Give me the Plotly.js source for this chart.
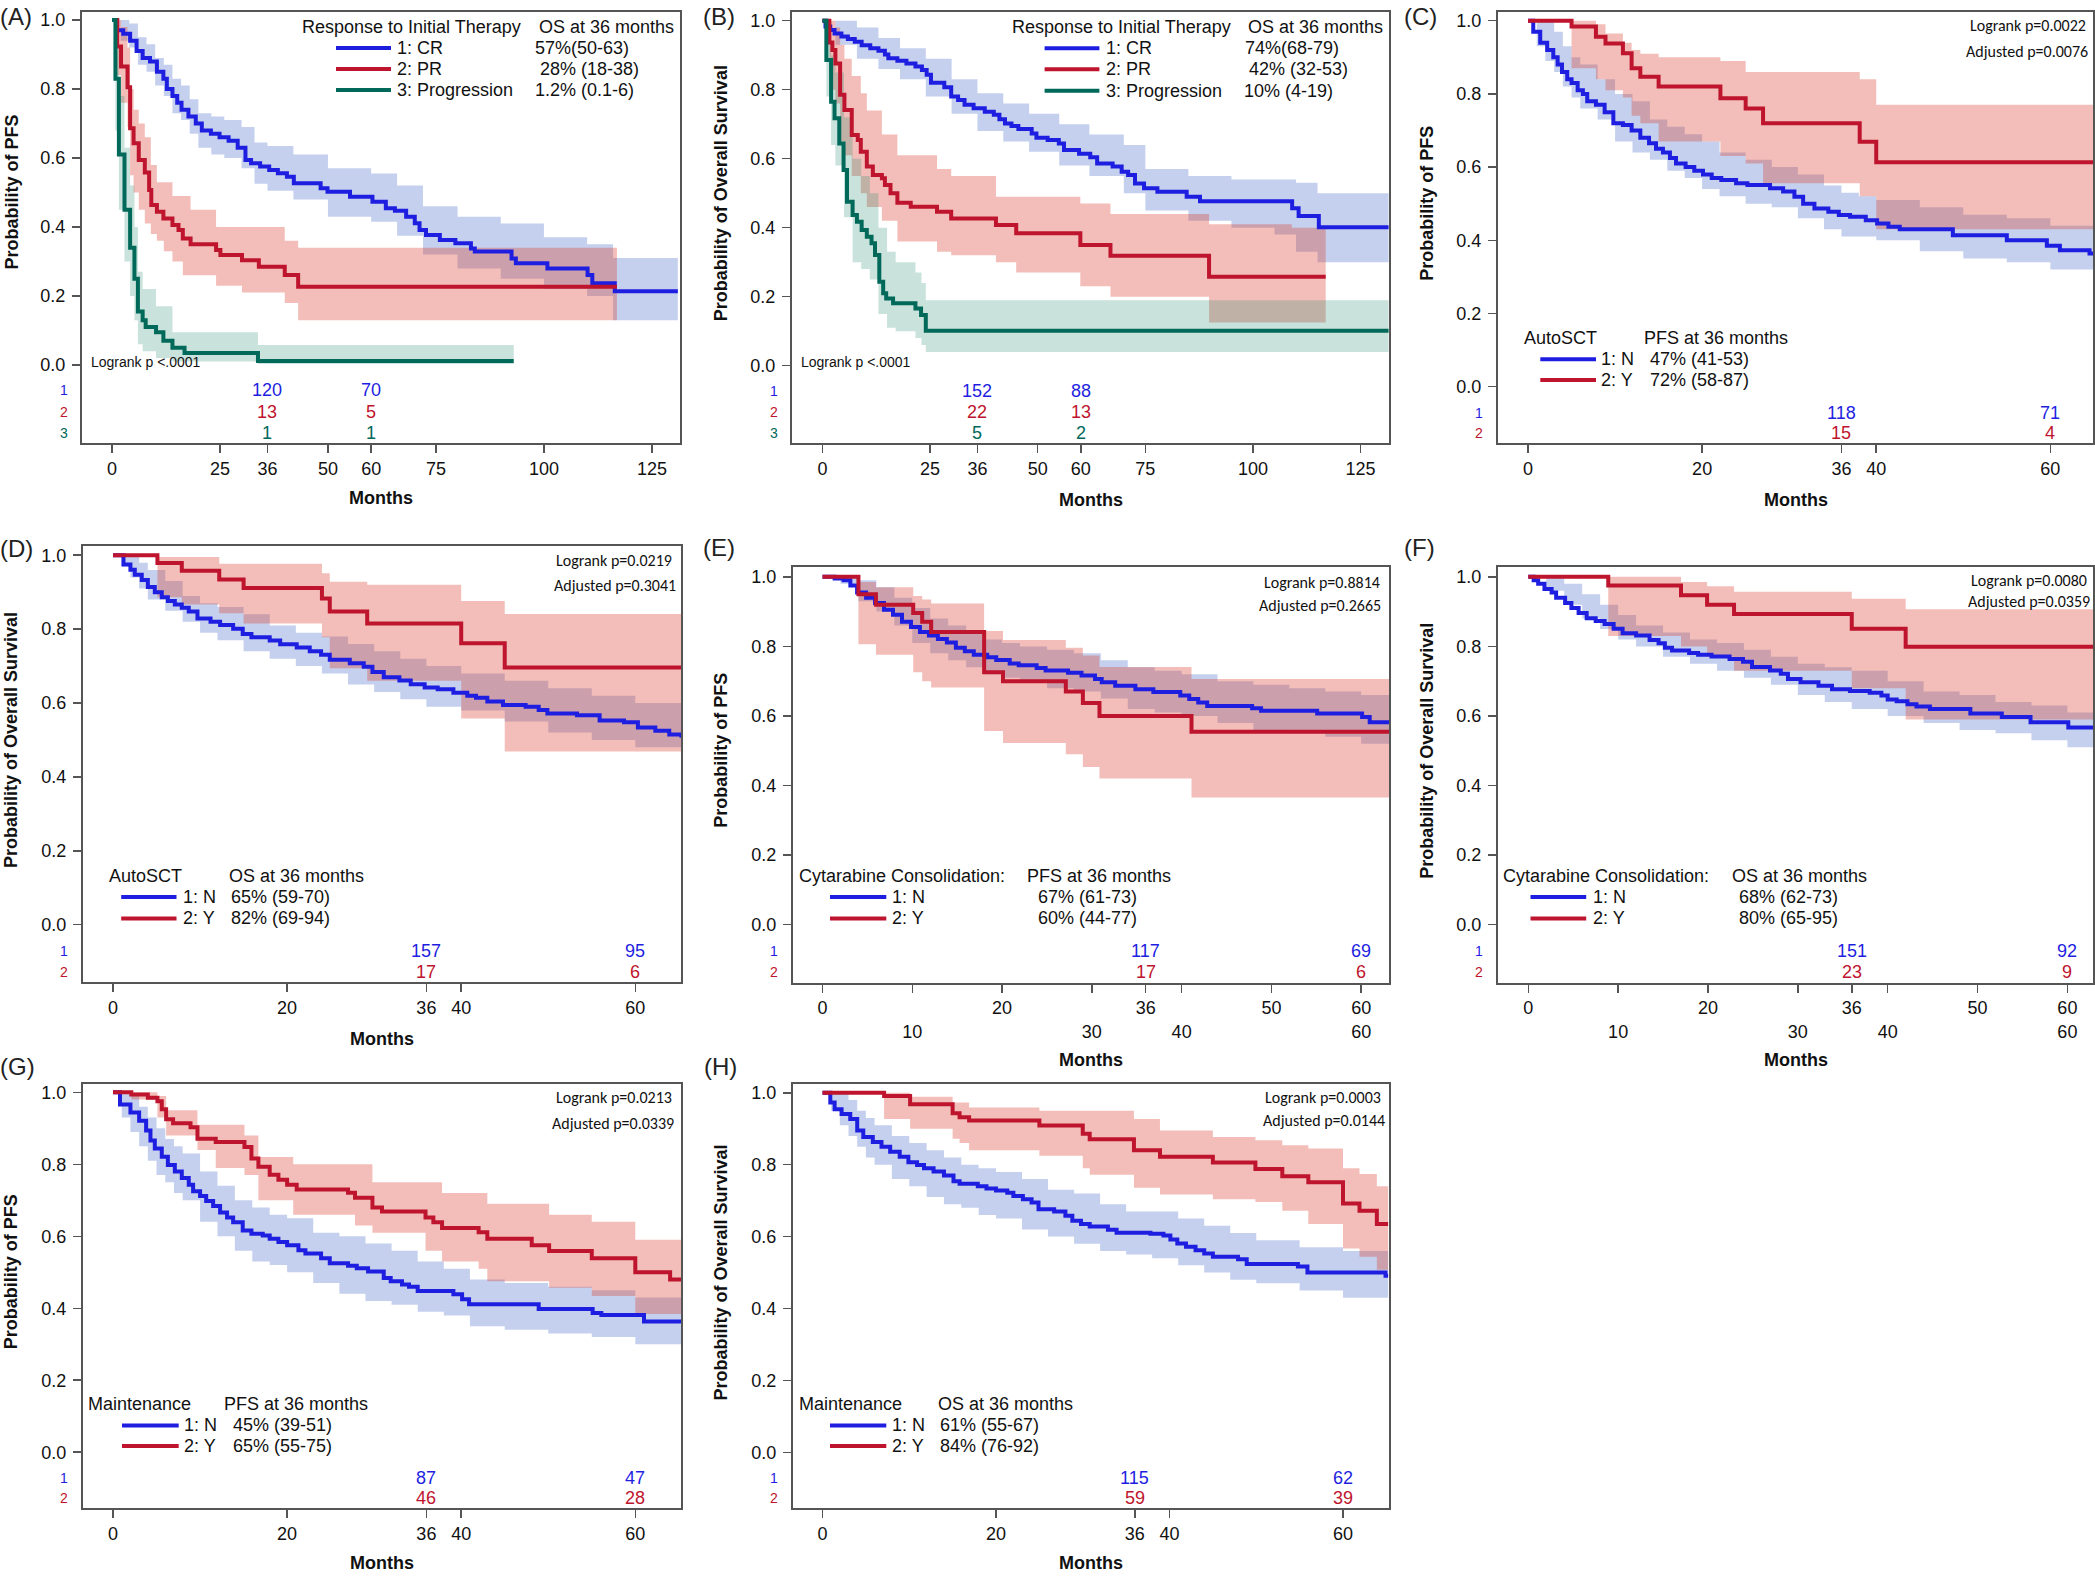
<!DOCTYPE html>
<html><head><meta charset="utf-8">
<script src="https://cdn.plot.ly/plotly-3.0.1.min.js"></script>
<style>html,body{margin:0;padding:0;background:#fff}#chart{width:2095px;height:1581px}</style>
</head><body><div id="chart"></div>
<script>
// ===================== DATA =====================
// Panel A: PFS by response to initial therapy
const A_cr_t = [0,1.2,2.6,4.2,5.7,7.1,8.8,10.4,11.9,12.7,14,15.1,16.1,17.7,19.4,20.8,22.9,24.9,27,29.1,30.9,32.2,34.3,36.4,38.4,40.5,42.1,48.3,49.9,55.1,60.3,63.4,65.5,68.1,70.1,71.2,72.7,75.9,79.5,83.1,84,92.5,93.5,100.8,110.1,111.2,116.4,131];
const A_cr_s = [1,0.97,0.96,0.94,0.91,0.89,0.88,0.85,0.83,0.80,0.78,0.76,0.74,0.72,0.70,0.68,0.67,0.66,0.65,0.63,0.594,0.585,0.575,0.565,0.556,0.546,0.527,0.512,0.502,0.488,0.473,0.454,0.447,0.43,0.411,0.391,0.377,0.362,0.353,0.338,0.329,0.309,0.295,0.28,0.261,0.237,0.214,0.214];
const A_cr_bt = [0,2,4,6,8,10,12,14,16,18,20,23,26,30,33,36,42,50,60,66,72,80,90,100,110,116,131];
const A_cr_hi = [1,1,0.99,0.95,0.93,0.89,0.87,0.83,0.81,0.77,0.73,0.72,0.71,0.69,0.645,0.635,0.61,0.57,0.555,0.52,0.46,0.43,0.41,0.37,0.35,0.31,0.31];
const A_cr_lo = [1,0.94,0.92,0.87,0.85,0.81,0.78,0.73,0.71,0.67,0.63,0.61,0.60,0.57,0.525,0.505,0.48,0.43,0.415,0.375,0.32,0.28,0.25,0.22,0.20,0.13,0.13];
const A_pr_t = [0,1.2,2.1,3.6,4.2,5.0,6.2,7.6,8.6,9.1,10.4,11.9,14.0,15.4,16.4,18.2,24.1,25.1,30.1,34.0,40.0,43.1,116.9];
const A_pr_s = [1,0.923,0.865,0.805,0.686,0.643,0.594,0.558,0.507,0.464,0.444,0.425,0.406,0.391,0.367,0.350,0.333,0.319,0.304,0.285,0.261,0.227,0.227];
const A_pr_bt = [0,1.2,2.1,3.6,4.2,5,6.2,7.6,9,10.4,12,14,16.4,18.2,24.1,30.1,34,40,43.1,116.9];
const A_pr_hi = [1,1,0.98,0.92,0.80,0.74,0.70,0.66,0.58,0.53,0.53,0.49,0.49,0.45,0.40,0.40,0.40,0.36,0.34,0.34];
const A_pr_lo = [1,0.84,0.76,0.69,0.55,0.50,0.45,0.41,0.38,0.36,0.33,0.30,0.26,0.26,0.23,0.21,0.21,0.18,0.13,0.13];
const A_pg_t = [0,0.8,1.6,2.9,4.2,5.2,6.0,7.1,7.8,10.2,11.9,14,16.8,33.8,93];
const A_pg_s = [1,0.83,0.61,0.45,0.34,0.25,0.155,0.13,0.11,0.095,0.07,0.05,0.035,0.012,0.012];
const A_pg_bt = [0,0.8,1.6,2.9,4.2,5.2,6,7.1,10.2,14,33.8,93];
const A_pg_hi = [1,0.95,0.78,0.63,0.52,0.40,0.27,0.22,0.17,0.095,0.058,0.058];
const A_pg_lo = [1,0.68,0.45,0.30,0.20,0.13,0.06,0.04,0.02,0.01,0.003,0.003];
const A_risk36 = [120,13,1];
const A_risk60 = [70,5,1];

// Panel B: OS by response to initial therapy
const B_cr_t = [0,0.7,1.8,2.8,4.4,5.9,7.5,9.1,11.1,13.0,14.5,15.3,17.4,19.5,21.6,23.1,24.2,25.2,28.3,29.9,31.5,33.0,35.1,37.7,39.8,41.1,42.4,43.9,45.5,48.6,49.7,52.3,54.9,56.1,59.6,62.2,63.8,67.4,69.5,71.0,72.6,74.7,77.8,84.6,87.7,109.1,110.6,115.3,131.5];
const B_cr_s = [1,0.983,0.973,0.963,0.954,0.947,0.939,0.929,0.920,0.913,0.902,0.891,0.884,0.876,0.867,0.857,0.843,0.820,0.807,0.780,0.770,0.756,0.746,0.736,0.727,0.714,0.702,0.695,0.686,0.673,0.661,0.654,0.644,0.625,0.614,0.604,0.586,0.577,0.562,0.553,0.528,0.514,0.504,0.490,0.477,0.456,0.434,0.401,0.401];
const B_cr_bt = [0,3,8,13,18,24,30,36,42,48,55,62,70,75,85,95,105,110,115,131.5];
const B_cr_hi = [1,1,0.98,0.95,0.92,0.89,0.83,0.79,0.76,0.73,0.70,0.67,0.64,0.57,0.55,0.54,0.54,0.53,0.50,0.50];
const B_cr_lo = [1,0.93,0.89,0.86,0.83,0.78,0.73,0.68,0.65,0.62,0.58,0.55,0.50,0.45,0.42,0.40,0.38,0.33,0.30,0.30];
const B_pr_t = [0,1.6,2.3,3.0,4.1,5.1,6.8,8.2,8.9,10.3,11.7,13.8,14.5,15.8,17.4,20.5,26.6,29.9,40.3,45.0,59.9,66.9,89.8,116.9];
const B_pr_s = [1,0.937,0.915,0.876,0.785,0.741,0.669,0.654,0.620,0.577,0.553,0.543,0.524,0.500,0.472,0.461,0.446,0.427,0.408,0.384,0.350,0.319,0.258,0.258];
const B_pr_bt = [0,1.6,2.3,3,4.1,5.1,6.8,8.9,10.3,13.8,17.4,26.6,29.9,40.3,45,59.9,66.9,89.8,109,116.9];
const B_pr_hi = [1,1,1,0.98,0.93,0.89,0.84,0.79,0.74,0.67,0.61,0.57,0.55,0.49,0.49,0.47,0.44,0.41,0.40,0.40];
const B_pr_lo = [1,0.84,0.80,0.76,0.65,0.61,0.55,0.50,0.46,0.42,0.36,0.33,0.32,0.30,0.27,0.23,0.20,0.125,0.125,0.125];
const B_pg_t = [0,0.9,2.0,2.8,3.9,4.9,5.7,7.0,8.0,9.1,10.3,11.4,12.2,13.2,14.1,14.8,16.4,21.6,22.9,24.0,131.5];
const B_pg_s = [1,0.886,0.765,0.717,0.644,0.567,0.475,0.437,0.417,0.393,0.374,0.355,0.321,0.243,0.210,0.195,0.181,0.166,0.147,0.101,0.101];
const B_pg_bt = [0,0.9,2,3,5,7,9,11,13,15,17,21.6,23,24,131.5];
const B_pg_hi = [1,0.98,0.90,0.85,0.72,0.60,0.55,0.50,0.40,0.33,0.30,0.27,0.24,0.19,0.19];
const B_pg_lo = [1,0.78,0.64,0.58,0.43,0.30,0.28,0.25,0.15,0.11,0.10,0.08,0.06,0.04,0.04];
const B_risk36 = [152,22,5];
const B_risk60 = [88,13,2];

// Panel C: PFS by AutoSCT
const C_n_t = [0,0.6,1.4,2.2,2.9,3.4,3.9,4.5,5.0,5.7,6.3,6.8,7.8,8.8,9.8,10.9,11.9,12.9,13.9,14.7,15.5,16.3,17.0,18.1,19.1,20.1,21.1,22.2,23.9,25.2,27.8,29.3,30.6,31.6,32.9,34.5,35.7,37.0,38.8,40.1,41.4,42.7,48.8,55.0,59.6,61.1,64.5,65];
const C_n_s = [1,0.97,0.94,0.92,0.90,0.88,0.86,0.84,0.83,0.81,0.80,0.78,0.77,0.75,0.72,0.715,0.70,0.68,0.665,0.65,0.64,0.625,0.61,0.60,0.59,0.58,0.57,0.565,0.556,0.551,0.542,0.533,0.519,0.50,0.487,0.478,0.469,0.464,0.455,0.446,0.437,0.43,0.414,0.40,0.385,0.373,0.364,0.364];
const C_n_bt = [0,1,2,3,4,5,6,8,10,12,14,16,18,20,22,25,28,31,34,36,38,40,45,50,55,60,65];
const C_n_hi = [1,1,1,0.97,0.93,0.90,0.88,0.84,0.80,0.78,0.73,0.71,0.69,0.67,0.64,0.62,0.60,0.58,0.55,0.53,0.52,0.51,0.49,0.47,0.46,0.44,0.42];
const C_n_lo = [1,0.93,0.89,0.86,0.82,0.79,0.76,0.73,0.67,0.64,0.62,0.59,0.57,0.54,0.52,0.50,0.49,0.46,0.43,0.41,0.41,0.40,0.37,0.35,0.34,0.32,0.31];
const C_y_t = [0,5.0,7.8,8.9,10.9,11.9,12.9,15.0,22.1,25.0,27.0,38.1,40.0,65];
const C_y_s = [1,0.984,0.956,0.938,0.911,0.870,0.847,0.820,0.788,0.760,0.720,0.669,0.613,0.613];
const C_y_hi = [1,1,0.99,0.965,0.94,0.92,0.91,0.90,0.89,0.86,0.86,0.84,0.77,0.77];
const C_y_lo = [1,0.87,0.84,0.81,0.79,0.74,0.72,0.67,0.63,0.61,0.556,0.52,0.43,0.43];
const C_risk36 = [118,15];
const C_risk60 = [71,4];

// Panel D: OS by AutoSCT
const D_n_t = [0,1.2,2.0,2.5,3.3,4.0,4.8,5.6,6.3,7.1,7.9,8.7,9.7,11.2,12.3,13.8,14.9,15.9,18.0,19.2,21.1,22.6,23.9,24.9,27.2,28.8,29.8,31.1,32.9,34.2,35.8,37.3,39.1,40.7,41.7,43.0,44.8,47.4,48.9,49.9,53.3,55.9,58.7,60.3,62.3,63.9,65.3];
const D_n_s = [1,0.975,0.961,0.947,0.933,0.914,0.900,0.886,0.876,0.867,0.858,0.848,0.829,0.820,0.811,0.801,0.787,0.778,0.769,0.759,0.750,0.740,0.731,0.717,0.708,0.698,0.684,0.670,0.661,0.651,0.642,0.637,0.628,0.620,0.614,0.604,0.595,0.590,0.581,0.572,0.567,0.553,0.548,0.534,0.525,0.515,0.506];
const D_n_bt = [0,1,2,3,4,6,8,10,12,15,18,21,24,27,30,33,36,40,45,50,55,60,65.3];
const D_n_hi = [1,1,1,0.98,0.96,0.93,0.89,0.87,0.86,0.84,0.81,0.79,0.78,0.76,0.74,0.72,0.70,0.68,0.66,0.64,0.62,0.60,0.57];
const D_n_lo = [1,0.97,0.94,0.91,0.88,0.85,0.82,0.79,0.77,0.74,0.72,0.70,0.68,0.65,0.63,0.61,0.59,0.58,0.55,0.52,0.50,0.48,0.44];
const D_y_t = [0,5.1,7.9,12.2,15.0,24.0,24.9,29.2,40.0,45.0,65.3];
const D_y_s = [1,0.979,0.958,0.934,0.911,0.883,0.848,0.815,0.762,0.696,0.696];
const D_y_hi = [1,0.995,0.995,0.977,0.977,0.951,0.928,0.92,0.876,0.841,0.841];
const D_y_lo = [1,0.886,0.867,0.843,0.815,0.778,0.694,0.66,0.558,0.469,0.469];
const D_risk36 = [157,17];
const D_risk60 = [95,6];

// Panel E: PFS by cytarabine consolidation
const E_n_t = [0,1.35,2.35,3.1,3.85,4.85,5.85,6.85,7.85,8.85,9.85,10.85,11.85,12.85,13.85,14.85,15.85,16.85,18.35,19.35,20.85,21.85,23.85,24.85,27.35,28.85,30.35,31.1,32.6,34.85,36.85,39.85,40.85,41.85,42.85,47.85,48.85,55.1,60.1,60.95,63.1];
const E_n_s = [1,0.995,0.99,0.975,0.955,0.940,0.925,0.905,0.891,0.871,0.856,0.841,0.831,0.821,0.811,0.796,0.786,0.776,0.769,0.761,0.751,0.746,0.738,0.731,0.724,0.716,0.706,0.697,0.687,0.677,0.669,0.659,0.649,0.639,0.629,0.622,0.615,0.607,0.597,0.582,0.582];
const E_n_bt = [0,2,4,6,8,10,12,14,16,18,20,22,25,28,31,34,37,40,44,48,52,56,60,63.1];
const E_n_hi = [1,1,0.99,0.97,0.94,0.91,0.88,0.86,0.84,0.82,0.81,0.80,0.79,0.78,0.76,0.74,0.73,0.72,0.70,0.69,0.68,0.67,0.66,0.64];
const E_n_lo = [1,0.98,0.93,0.90,0.86,0.81,0.78,0.76,0.74,0.72,0.71,0.70,0.68,0.67,0.65,0.62,0.61,0.60,0.58,0.56,0.55,0.54,0.52,0.50];
const E_y_t = [0,4.0,5.95,10.1,11.1,12.1,18.0,20.1,27.1,29.0,30.85,41.1,63.1];
const E_y_s = [1,0.950,0.920,0.896,0.871,0.841,0.726,0.700,0.670,0.637,0.600,0.555,0.555];
const E_y_hi = [1,0.985,0.97,0.945,0.935,0.923,0.844,0.818,0.796,0.774,0.741,0.706,0.706];
const E_y_lo = [1,0.806,0.776,0.726,0.70,0.682,0.557,0.522,0.490,0.453,0.420,0.366,0.366];
const E_risk36 = [117,17];
const E_risk60 = [69,6];

// Panel F: OS by cytarabine consolidation
const F_n_t = [0,0.6,1.1,1.8,2.6,3.1,4.1,4.8,5.6,6.5,7.5,8.5,9.5,10.5,12.0,13.5,14.5,15.2,16.0,17.9,18.9,20.4,22.4,23.9,24.9,26.9,28.1,28.9,30.3,32.3,33.8,35.8,38.0,39.3,40.0,41.0,42.2,43.2,44.7,49.2,52.7,55.9,60.1,63.1];
const F_n_s = [1,0.990,0.980,0.965,0.955,0.940,0.925,0.910,0.896,0.881,0.873,0.864,0.851,0.838,0.831,0.818,0.809,0.796,0.788,0.781,0.776,0.771,0.764,0.756,0.741,0.731,0.721,0.706,0.697,0.687,0.677,0.672,0.667,0.659,0.647,0.642,0.634,0.627,0.620,0.607,0.597,0.582,0.567,0.559];
const F_n_bt = [0,2,4,6,8,10,12,15,18,21,24,27,30,33,36,40,44,48,52,56,60,63.1];
const F_n_hi = [1,1,0.98,0.95,0.92,0.89,0.86,0.84,0.82,0.81,0.79,0.77,0.75,0.74,0.73,0.70,0.67,0.66,0.64,0.63,0.61,0.60];
const F_n_lo = [1,0.96,0.92,0.88,0.85,0.82,0.80,0.77,0.75,0.73,0.71,0.69,0.66,0.64,0.62,0.60,0.58,0.56,0.55,0.53,0.51,0.49];
const F_y_t = [0,8.9,17.0,19.9,22.9,36.0,42.0,63.1];
const F_y_s = [1,0.975,0.947,0.920,0.893,0.851,0.799,0.799];
const F_y_hi = [1,1,0.985,0.973,0.957,0.937,0.907,0.907];
const F_y_lo = [1,0.83,0.80,0.77,0.73,0.68,0.59,0.59];
const F_risk36 = [151,23];
const F_risk60 = [92,9];

// Panel G: PFS by maintenance
const G_n_t = [0,0.8,2.0,3.0,3.8,4.3,4.8,5.6,6.3,7.1,7.9,8.7,9.2,10.0,10.7,11.5,12.3,13.1,13.8,14.9,15.9,17.2,18.0,19.0,20.0,21.3,22.1,23.9,24.9,27.0,28.0,29.3,31.1,31.9,33.2,34.0,35.0,39.1,40.1,40.9,48.9,55.1,56.1,61.0,65.3];
const G_n_s = [1,0.966,0.944,0.921,0.894,0.866,0.844,0.821,0.798,0.780,0.762,0.743,0.725,0.712,0.698,0.684,0.666,0.652,0.639,0.616,0.607,0.602,0.593,0.584,0.575,0.561,0.552,0.539,0.525,0.518,0.511,0.502,0.484,0.475,0.466,0.460,0.448,0.439,0.425,0.411,0.398,0.387,0.381,0.363,0.363];
const G_n_bt = [0,1,2,3,4,5,6,7,8,10,12,14,16,18,20,23,26,29,32,35,38,41,45,50,55,60,65.3];
const G_n_hi = [1,1,0.99,0.96,0.93,0.90,0.87,0.85,0.83,0.78,0.74,0.70,0.68,0.66,0.65,0.61,0.60,0.58,0.56,0.53,0.51,0.48,0.47,0.46,0.45,0.43,0.41];
const G_n_lo = [1,0.93,0.89,0.85,0.81,0.77,0.75,0.72,0.70,0.64,0.60,0.56,0.53,0.52,0.50,0.47,0.44,0.42,0.41,0.39,0.38,0.35,0.34,0.33,0.32,0.30,0.30];
const G_y_t = [0,2.1,4.0,5.1,5.6,6.1,6.9,8.9,9.7,11.8,15.1,15.9,16.7,18.0,19.0,20.0,21.1,27.0,27.8,29.8,30.9,35.9,36.8,37.8,42.0,43.0,48.1,50.1,55.0,60.0,64.0,65.3];
const G_y_s = [1,0.994,0.985,0.975,0.953,0.925,0.914,0.903,0.871,0.862,0.848,0.816,0.793,0.771,0.757,0.743,0.730,0.721,0.707,0.680,0.669,0.652,0.639,0.623,0.611,0.593,0.575,0.559,0.539,0.500,0.480,0.480];
const G_y_bt = [0,2.1,5.1,6.1,9.7,11.8,15.1,16.7,20.7,27.8,29.8,35.9,37.8,42.0,43.0,48.1,50.1,55.0,60.0,65.3];
const G_y_hi = [1,1,0.99,0.95,0.91,0.91,0.88,0.82,0.80,0.80,0.75,0.75,0.72,0.72,0.69,0.69,0.66,0.64,0.59,0.59];
const G_y_lo = [1,0.98,0.93,0.88,0.84,0.79,0.77,0.70,0.66,0.63,0.61,0.56,0.53,0.51,0.475,0.475,0.457,0.434,0.384,0.384];
const G_risk36 = [87,46];
const G_risk60 = [47,28];

// Panel H: OS by maintenance
const H_n_t = [0,0.9,1.4,2.2,3.2,4.0,4.7,5.8,6.8,7.8,8.9,9.9,10.9,11.7,12.8,14.0,15.1,15.8,17.9,18.9,20.0,21.3,22.0,23.1,24.1,24.9,26.7,28.0,28.8,29.8,30.8,32.9,33.9,37.8,39.3,40.1,40.9,41.9,43.0,44.0,45.0,47.9,48.9,54.8,55.9,64.9,65.2];
const H_n_s = [1,0.973,0.954,0.941,0.927,0.895,0.877,0.863,0.850,0.836,0.822,0.807,0.799,0.790,0.781,0.770,0.754,0.747,0.740,0.734,0.728,0.722,0.713,0.704,0.695,0.676,0.670,0.658,0.644,0.635,0.628,0.619,0.611,0.608,0.603,0.592,0.581,0.572,0.562,0.553,0.544,0.537,0.524,0.517,0.500,0.491,0.491];
const H_n_bt = [0,1,2,3,4,5,6,8,10,12,14,16,18,20,23,26,29,32,35,38,41,44,47,50,55,60,65.2];
const H_n_hi = [1,1,1,0.98,0.95,0.93,0.91,0.88,0.86,0.84,0.82,0.80,0.79,0.78,0.76,0.73,0.72,0.69,0.67,0.67,0.65,0.63,0.61,0.59,0.57,0.56,0.54];
const H_n_lo = [1,0.95,0.91,0.88,0.85,0.82,0.80,0.76,0.74,0.71,0.69,0.68,0.66,0.65,0.62,0.60,0.58,0.56,0.55,0.54,0.52,0.50,0.48,0.47,0.45,0.43,0.42];
const H_y_t = [0,7.1,10.1,15.0,15.8,16.9,25.0,30.0,30.8,35.9,38.9,45.0,49.9,53.0,56.0,60.0,61.9,63.9,65.2];
const H_y_s = [1,0.991,0.968,0.943,0.932,0.923,0.909,0.886,0.871,0.840,0.822,0.806,0.788,0.768,0.751,0.692,0.672,0.635,0.635];
const H_y_hi = [1,1,0.989,0.973,0.973,0.959,0.950,0.950,0.950,0.927,0.895,0.877,0.868,0.854,0.845,0.790,0.774,0.740,0.740];
const H_y_lo = [1,0.927,0.900,0.872,0.860,0.840,0.825,0.790,0.772,0.736,0.717,0.704,0.696,0.672,0.635,0.567,0.544,0.508,0.508];
const H_risk36 = [115,59];
const H_risk60 = [62,39];

// Tick values / labels
const ticksLong = [0,25,36,50,60,75,100,125];
const ticksShort = [0,20,36,40,60];
const ticksTwoRow = [0,10,20,30,36,40,50,60];
const ticksTwoRowText = ['0','\u00a0<br>10','20','\u00a0<br>30','36','\u00a0<br>40','50','60<br>60'];
const yTickVals = [0,0.2,0.4,0.6,0.8,1.0];
const yTickText = ['0.0','0.2','0.4','0.6','0.8','1.0'];
const riskTimes = [36,60];

// ===================== STYLE / LAYOUT =====================
const W=2095, H=1581;
const PX=x=>x/W, PY=y=>1-y/H;
const FONT='Liberation Sans, Arial, Helvetica, sans-serif';
const FONT2='Carlito, Calibri, Lato, Liberation Sans, sans-serif';
const COL={n:'#1e1ee1', y:'#be142d', g:'#00695a'};
const FILL={n:'rgba(70,110,200,0.32)', y:'rgba(220,70,55,0.35)', g:'rgba(40,140,110,0.25)'};
const FRAME='#555';

const panels=[
 {k:'(A)', lx:0, ly:17, L:82,R:680,T:11.7,B:443, xr:[-6.94,131.5], yr:[-0.226,1.024], xt:ticksLong, xtt:ticksLong.map(String),
  ytitle:'Probability of PFS', ytx:11, mty:498, rowX:64, riskY:[-0.072,-0.136,-0.197],
  curves:[[A_cr_t,A_cr_s,A_cr_bt,A_cr_lo,A_cr_hi,'n'],[A_pr_t,A_pr_s,A_pr_bt,A_pr_lo,A_pr_hi,'y'],[A_pg_t,A_pg_s,A_pg_bt,A_pg_lo,A_pg_hi,'g']],
  risk:[A_risk36,A_risk60],
  leg:{hy:27, hx:[302,539], head:['Response to Initial Therapy','OS at 36 months'], ry:[48,69,90], lx:[336,391], tx:397, vx:[535,540,535],
       lab:['1: CR','2: PR','3: Progression'], val:['57%(50-63)','28% (18-38)','1.2% (0.1-6)']},
  logrank:{left:true, x:91, y:361.7, t:['Logrank p <.0001']}},
 {k:'(B)', lx:703, ly:17, L:792,R:1389,T:11.7,B:443, xr:[-7.08,131.6], yr:[-0.224,1.026], xt:ticksLong, xtt:ticksLong.map(String),
  ytitle:'Probability of Overall Survival', ytx:721, mty:500, rowX:774, riskY:[-0.072,-0.135,-0.196],
  curves:[[B_cr_t,B_cr_s,B_cr_bt,B_cr_lo,B_cr_hi,'n'],[B_pr_t,B_pr_s,B_pr_bt,B_pr_lo,B_pr_hi,'y'],[B_pg_t,B_pg_s,B_pg_bt,B_pg_lo,B_pg_hi,'g']],
  risk:[B_risk36,B_risk60],
  leg:{hy:27.3, hx:[1012,1247.6], head:['Response to Initial Therapy','OS at 36 months'], ry:[48.3,69.3,90.7], lx:[1044.6,1099.4], tx:1106, vx:[1244.5,1248.5,1244],
       lab:['1: CR','2: PR','3: Progression'], val:['74%(68-79)','42% (32-53)','10% (4-19)']},
  logrank:{left:true, x:801, y:361.7, t:['Logrank p <.0001']}},
 {k:'(C)', lx:1404, ly:17, L:1498,R:2093,T:11.7,B:443, xr:[-3.45,64.9], yr:[-0.154,1.0246], xt:ticksShort, xtt:ticksShort.map(String),
  ytitle:'Probability of PFS', ytx:1427, mty:500, rowX:1479, riskY:[-0.071,-0.127],
  curves:[[C_n_t,C_n_s,C_n_bt,C_n_lo,C_n_hi,'n'],[C_y_t,C_y_s,C_y_t,C_y_lo,C_y_hi,'y']],
  risk:[C_risk36,C_risk60],
  leg:{hy:338.3, hx:[1524,1644], head:['AutoSCT','PFS at 36 months'], ry:[359.3,380], lx:[1540.3,1596], tx:1601.4, vx:[1650.4,1650.4],
       lab:['1: N','2: Y'], val:['47% (41-53)','72% (58-87)']},
  logrank:{x:[2086,2088], y:[25,52], t:['Logrank p=0.0022','Adjusted p=0.0076']}},
 {k:'(D)', lx:0, ly:548, L:83,R:681,T:546,B:982, xr:[-3.45,65.25], yr:[-0.155,1.025], xt:ticksShort, xtt:ticksShort.map(String),
  ytitle:'Probability of Overall Survival', ytx:11, mty:1038.8, rowX:64, riskY:[-0.070,-0.128],
  curves:[[D_n_t,D_n_s,D_n_bt,D_n_lo,D_n_hi,'n'],[D_y_t,D_y_s,D_y_t,D_y_lo,D_y_hi,'y']],
  risk:[D_risk36,D_risk60],
  leg:{hy:876.2, hx:[109,229], head:['AutoSCT','OS at 36 months'], ry:[897,918.4], lx:[121.2,176.5], tx:182.7, vx:[231,231],
       lab:['1: N','2: Y'], val:['65% (59-70)','82% (69-94)']},
  logrank:{x:[672,675.7], y:[560,585.4], t:['Logrank p=0.0219','Adjusted p=0.3041']}},
 {k:'(E)', lx:703, ly:547, L:793,R:1389,T:567.4,B:982.5, xr:[-3.29,63.1], yr:[-0.166,1.027], xt:ticksTwoRow, xtt:ticksTwoRowText,
  ytitle:'Probability of PFS', ytx:721, mty:1059.6, rowX:774, riskY:[-0.0744,-0.136],
  curves:[[E_n_t,E_n_s,E_n_bt,E_n_lo,E_n_hi,'n'],[E_y_t,E_y_s,E_y_t,E_y_lo,E_y_hi,'y']],
  risk:[E_risk36,E_risk60],
  leg:{hy:876.2, hx:[798.7,1026.7], head:['Cytarabine Consolidation:','PFS at 36 months'], ry:[897,918.4], lx:[830,886.3], tx:892, vx:[1038,1038],
       lab:['1: N','2: Y'], val:['67% (61-73)','60% (44-77)']},
  logrank:{x:[1380,1381], y:[582,605], t:['Logrank p=0.8814','Adjusted p=0.2665']}},
 {k:'(F)', lx:1404, ly:547, L:1498,R:2093,T:567.4,B:982.5, xr:[-3.37,62.85], yr:[-0.166,1.027], xt:ticksTwoRow, xtt:ticksTwoRowText,
  ytitle:'Probability of Overall Survival', ytx:1427, mty:1059.6, rowX:1479, riskY:[-0.0744,-0.136],
  curves:[[F_n_t,F_n_s,F_n_bt,F_n_lo,F_n_hi,'n'],[F_y_t,F_y_s,F_y_t,F_y_lo,F_y_hi,'y']],
  risk:[F_risk36,F_risk60],
  leg:{hy:876.2, hx:[1503.4,1732], head:['Cytarabine Consolidation:','OS at 36 months'], ry:[897,918.4], lx:[1530.5,1586.2], tx:1592.5, vx:[1738.6,1738.6],
       lab:['1: N','2: Y'], val:['68% (62-73)','80% (65-95)']},
  logrank:{x:[2087,2089.6], y:[581,601.7], t:['Logrank p=0.0080','Adjusted p=0.0359']}},
 {k:'(G)', lx:0, ly:1066, L:83,R:681,T:1083.8,B:1508, xr:[-3.45,65.25], yr:[-0.155,1.0236], xt:ticksShort, xtt:ticksShort.map(String),
  ytitle:'Probability of PFS', ytx:11, mty:1563, rowX:64, riskY:[-0.071,-0.127],
  curves:[[G_n_t,G_n_s,G_n_bt,G_n_lo,G_n_hi,'n'],[G_y_t,G_y_s,G_y_bt,G_y_lo,G_y_hi,'y']],
  risk:[G_risk36,G_risk60],
  leg:{hy:1404.2, hx:[88.4,223.5], head:['Maintenance','PFS at 36 months'], ry:[1425.4,1446], lx:[122,178.7], tx:184, vx:[232.5,232.5],
       lab:['1: N','2: Y'], val:['45% (39-51)','65% (55-75)']},
  logrank:{x:[672,673.5], y:[1097,1123], t:['Logrank p=0.0213','Adjusted p=0.0339']}},
 {k:'(H)', lx:704, ly:1066, L:793,R:1389,T:1083.8,B:1508, xr:[-3.4,65.3], yr:[-0.155,1.025], xt:ticksShort, xtt:ticksShort.map(String),
  ytitle:'Probability of Overall Survival', ytx:721, mty:1563, rowX:774, riskY:[-0.071,-0.127],
  curves:[[H_n_t,H_n_s,H_n_bt,H_n_lo,H_n_hi,'n'],[H_y_t,H_y_s,H_y_t,H_y_lo,H_y_hi,'y']],
  risk:[H_risk36,H_risk60],
  leg:{hy:1404.2, hx:[798.7,937.8], head:['Maintenance','OS at 36 months'], ry:[1425.4,1446], lx:[830,886.3], tx:892, vx:[940,940],
       lab:['1: N','2: Y'], val:['61% (55-67)','84% (76-92)']},
  logrank:{x:[1381,1384.6], y:[1097,1120.8], t:['Logrank p=0.0003','Adjusted p=0.0144']}}
];

const layout={width:W,height:H,margin:{l:0,r:0,t:0,b:0},paper_bgcolor:'#fff',plot_bgcolor:'rgba(0,0,0,0)',
  showlegend:false,font:{family:FONT,size:18,color:'#111'},annotations:[],shapes:[]};
const traces=[];
const rowColors=['n','y','g'];

function txt(x,y,text,opts){
  return Object.assign({x:x,y:y,text:text,xref:'paper',yref:'paper',showarrow:false,xanchor:'left',yanchor:'middle',
    font:{family:FONT,size:18,color:'#111'},borderpad:0,borderwidth:0},opts||{});
}

panels.forEach((p,i)=>{
  const n=i+1, s=n===1?'':String(n);
  const xa='x'+s, ya='y'+s;
  const axCommon={showline:true,linecolor:FRAME,linewidth:2,mirror:true,ticks:'outside',ticklen:8,tickwidth:1.5,tickcolor:FRAME,
    showgrid:false,zeroline:false,fixedrange:true,tickfont:{family:FONT,size:18,color:'#111'}};
  layout['xaxis'+s]=Object.assign({},axCommon,{anchor:ya,domain:[PX(p.L),PX(p.R)],range:p.xr,tickmode:'array',tickvals:p.xt,ticktext:p.xtt,ticklabelstandoff:0});
  layout['yaxis'+s]=Object.assign({},axCommon,{anchor:xa,domain:[PY(p.B),PY(p.T)],range:p.yr,tickmode:'array',tickvals:yTickVals,ticktext:yTickText,ticklabelstandoff:3});

  // confidence bands
  p.curves.forEach(c=>{
    traces.push({type:'scatter',mode:'lines',x:c[2],y:c[4],xaxis:xa,yaxis:ya,line:{width:0,shape:'hv'},hoverinfo:'skip',showlegend:false});
    traces.push({type:'scatter',mode:'lines',x:c[2],y:c[3],xaxis:xa,yaxis:ya,line:{width:0,shape:'hv'},fill:'tonexty',fillcolor:FILL[c[5]],hoverinfo:'skip',showlegend:false});
  });
  // survival curves
  p.curves.forEach(c=>{
    traces.push({type:'scatter',mode:'lines',x:c[0],y:c[1],xaxis:xa,yaxis:ya,line:{width:4,shape:'hv',color:COL[c[5]]},showlegend:false});
  });

  const A=layout.annotations;
  // panel letter
  A.push(txt(PX(p.lx),PY(p.ly),p.k,{font:{family:FONT,size:24,color:'#222'}}));
  // y title
  A.push(txt(PX(p.ytx),0.5,p.ytitle,{yref:ya,xanchor:'center',textangle:-90,font:{family:FONT,size:18,color:'#111',weight:'bold'}}));
  // x title
  A.push(txt(PX((p.L+p.R)/2),PY(p.mty),'Months',{xanchor:'center',font:{family:FONT,size:18,color:'#111',weight:'bold'}}));
  // number at risk
  p.riskY.forEach((ry,r)=>{
    const col=COL[rowColors[r]];
    A.push(txt(PX(p.rowX),ry,String(r+1),{yref:ya,xanchor:'center',font:{family:FONT,size:14,color:col}}));
    riskTimes.forEach((t,j)=>{
      A.push(txt(t,ry,String(p.risk[j][r]),{xref:xa,yref:ya,xanchor:'center',font:{family:FONT,size:18,color:col}}));
    });
  });
  // legend block
  const L=p.leg;
  A.push(txt(PX(L.hx[0]),PY(L.hy),L.head[0]));
  A.push(txt(PX(L.hx[1]),PY(L.hy),L.head[1]));
  L.ry.forEach((ry,r)=>{
    layout.shapes.push({type:'line',xref:'paper',yref:'paper',x0:PX(L.lx[0]),x1:PX(L.lx[1]),y0:PY(ry),y1:PY(ry),line:{color:COL[rowColors[r]],width:4}});
    A.push(txt(PX(L.tx),PY(ry),L.lab[r]));
    A.push(txt(PX(L.vx[r]),PY(ry),L.val[r]));
  });
  // logrank
  const G=p.logrank;
  if(G.left){
    A.push(txt(PX(G.x),PY(G.y),G.t[0],{font:{family:FONT,size:14,color:'#111'}}));
  } else {
    G.t.forEach((t,j)=>A.push(txt(PX(G.x[j]),PY(G.y[j]),t,{xanchor:'right',font:{family:FONT2,size:16,color:'#111'}})));
  }
});

Plotly.newPlot('chart',traces,layout,{displayModeBar:false,staticPlot:true});
</script></body></html>
